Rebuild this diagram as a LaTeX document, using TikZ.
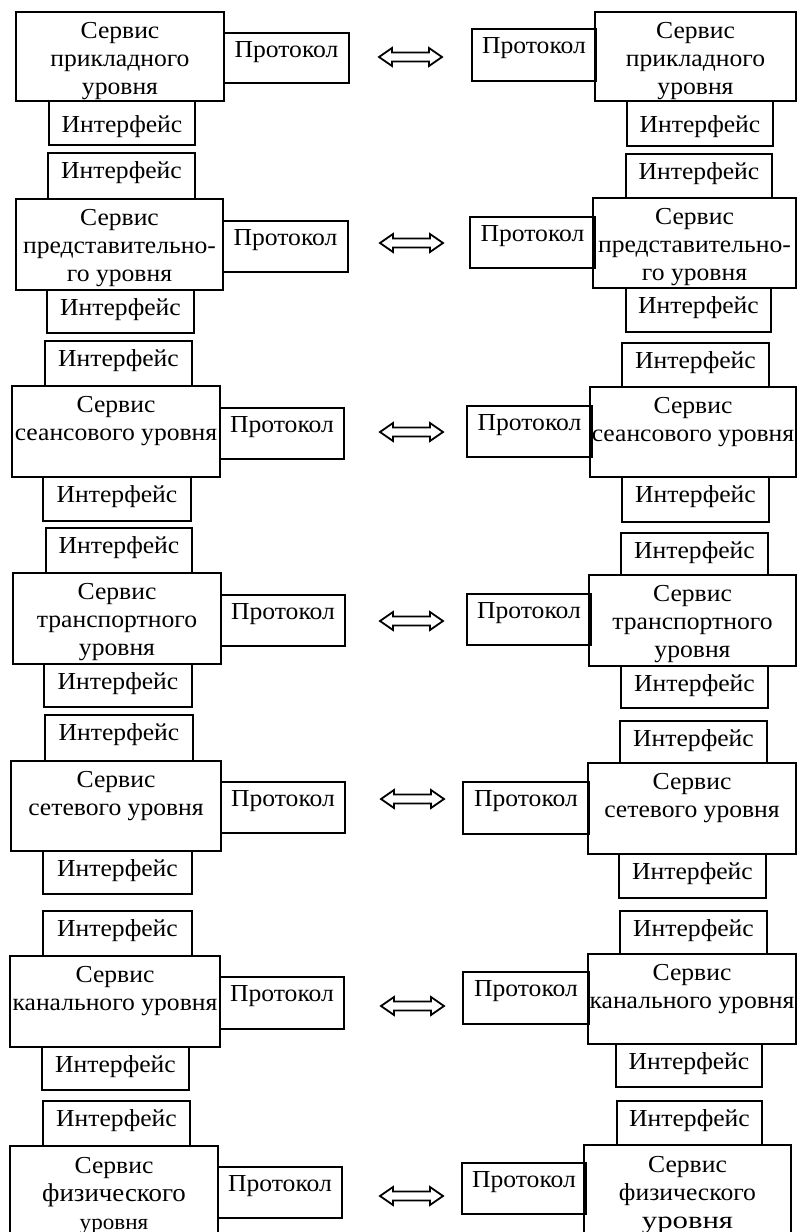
\documentclass[tikz,border=0pt]{standalone}
\usepackage{fontspec}
\setmainfont{Liberation Serif}[FakeStretch=1.05]
\tikzset{
  boxst/.style={draw, line width=1pt, inner sep=0pt, outer sep=0pt},
  arrst/.style={draw, line width=0.9pt, line join=miter},
}
% name, x1, y1, x2, y2, baseline offset, text   (units: px of the reference)
\newcommand{\mybox}[7]{%
  \pgfmathsetlengthmacro{\mybw}{(#4-#2)*0.5pt}%
  \pgfmathsetlengthmacro{\myth}{#6*0.5pt}%
  \pgfmathsetlengthmacro{\mytd}{(#5-#3-#6)*0.5pt}%
  \node[boxst, anchor=north west, minimum width=\mybw, text height=\myth, text depth=\mytd] (#1) at (#2,#3) {\begin{tabular}[t]{@{}c@{}}#7\end{tabular}};%
}
\newcommand{\dblarr}[2]{%
  \draw[arrst] (#1,#2) -- ++(13,-9) -- ++(0,4.5) -- ++(37,0) -- ++(0,-4.5) -- ++(13,9) -- ++(-13,9) -- ++(0,-4.5) -- ++(-37,0) -- ++(0,4.5) -- cycle;%
}
\newcommand{\IF}{Интерфейс}
\newcommand{\PR}{Протокол}
\begin{document}
\begin{tikzpicture}[x=0.5pt,y=-0.5pt,font=\fontsize{12.2}{14}\selectfont]
\useasboundingbox (0,0) rectangle (797,1232);
\clip (0,0) rectangle (797,1232);
% ---------- Row 1
\mybox{l1p}{224}{33}{349}{83}{24}{\PR}
\mybox{l1b}{49}{101}{195}{145}{31}{\IF}
\mybox{l1s}{16}{12}{224}{101}{26}{Сервис\\прикладного\\уровня}
\mybox{r1p}{472}{29}{596}{81}{24}{\PR}
\mybox{r1b}{627}{101}{773}{146}{31}{\IF}
\mybox{r1s}{595}{12}{796}{101}{26}{Сервис\\прикладного\\уровня}
\dblarr{379}{57}
% ---------- Row 2
\mybox{l2t}{48}{153}{195}{199}{25}{\IF}
\mybox{l2p}{223}{221}{348}{272}{24}{\PR}
\mybox{l2b}{47}{290}{194}{333}{25}{\IF}
\mybox{l2s}{16}{199}{223}{290}{26}{Сервис\\представительно-\\го уровня}
\mybox{r2t}{626}{154}{772}{198}{25}{\IF}
\mybox{r2p}{470}{217}{595}{268}{24}{\PR}
\mybox{r2b}{626}{288}{771}{332}{25}{\IF}
\mybox{r2s}{593}{198}{796}{288}{26}{Сервис\\представительно-\\го уровня}
\dblarr{380}{243}
% ---------- Row 3
\mybox{l3t}{45}{341}{192}{386}{25}{\IF}
\mybox{l3p}{220}{408}{344}{459}{24}{\PR}
\mybox{l3b}{43}{477}{191}{521}{25}{\IF}
\mybox{l3s}{12}{386}{220}{477}{26}{Сервис\\сеансового уровня}
\mybox{r3t}{622}{343}{769}{387}{25}{\IF}
\mybox{r3p}{467}{406}{592}{457}{24}{\PR}
\mybox{r3b}{622}{477}{769}{522}{25}{\IF}
\mybox{r3s}{590}{387}{796}{477}{26}{Сервис\\сеансового уровня}
\dblarr{380}{432}
% ---------- Row 4
\mybox{l4t}{46}{528}{192}{573}{25}{\IF}
\mybox{l4p}{221}{595}{345}{646}{24}{\PR}
\mybox{l4b}{44}{664}{192}{707}{25}{\IF}
\mybox{l4s}{13}{573}{221}{664}{26}{Сервис\\транспортного\\уровня}
\mybox{r4t}{621}{533}{768}{575}{25}{\IF}
\mybox{r4p}{467}{594}{591}{645}{24}{\PR}
\mybox{r4b}{621}{666}{768}{708}{25}{\IF}
\mybox{r4s}{589}{575}{796}{666}{26}{Сервис\\транспортного\\уровня}
\dblarr{380}{621}
% ---------- Row 5
\mybox{l5t}{45}{715}{193}{761}{25}{\IF}
\mybox{l5p}{221}{782}{345}{833}{24}{\PR}
\mybox{l5b}{43}{851}{192}{894}{25}{\IF}
\mybox{l5s}{11}{761}{221}{851}{26}{Сервис\\сетевого уровня}
\mybox{r5t}{620}{721}{767}{763}{25}{\IF}
\mybox{r5p}{463}{782}{589}{834}{24}{\PR}
\mybox{r5b}{619}{854}{766}{898}{25}{\IF}
\mybox{r5s}{588}{763}{796}{854}{26}{Сервис\\сетевого уровня}
\dblarr{381}{799}
% ---------- Row 6
\mybox{l6t}{43}{911}{192}{956}{25}{\IF}
\mybox{l6p}{220}{977}{344}{1029}{24}{\PR}
\mybox{l6b}{42}{1047}{189}{1090}{25}{\IF}
\mybox{l6s}{10}{956}{220}{1047}{26}{Сервис\\канального уровня}
\mybox{r6t}{620}{911}{767}{954}{25}{\IF}
\mybox{r6p}{463}{972}{589}{1024}{24}{\PR}
\mybox{r6b}{616}{1044}{762}{1087}{25}{\IF}
\mybox{r6s}{588}{954}{796}{1044}{26}{Сервис\\канального уровня}
\dblarr{381}{1006}
% ---------- Row 7
\mybox{l7t}{43}{1101}{190}{1146}{25}{\IF}
\mybox{l7p}{218}{1167}{342}{1218}{24}{\PR}
\mybox{l7s}{10}{1146}{218}{1260}{27}{Сервис\\{\fontsize{12.8}{14}\selectfont физического}\\{\fontsize{11}{14}\selectfont уровня}}
\mybox{r7t}{617}{1101}{762}{1145}{25}{\IF}
\mybox{r7p}{462}{1163}{586}{1214}{24}{\PR}
\mybox{r7s}{584}{1145}{791}{1260}{27}{Сервис\\физического\\\scalebox{1.2}[1]{уровня}}
\dblarr{380}{1196}
\end{tikzpicture}
\end{document}
